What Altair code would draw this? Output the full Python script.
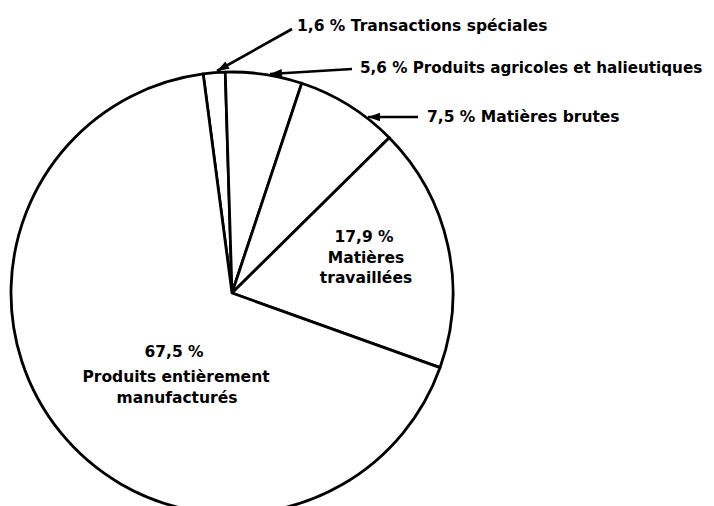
import altair as alt
import pandas as pd
import math

# ---- data ----
categories = [
    "Transactions spéciales",
    "Produits agricoles et halieutiques",
    "Matières brutes",
    "Matières travaillées",
    "Produits entièrement manufacturés",
]
shares = [1.6, 5.6, 7.5, 17.9, 67.5]
share_labels = ["1,6 %", "5,6 %", "7,5 %", "17,9 %", "67,5 %"]
order = [1, 2, 3, 4, 5]

df = pd.DataFrame({"categorie": categories, "part": shares, "ordre": order})

start = math.radians(-7.5)

FONT = "DejaVu Sans"
FS = 15.5

pie = alt.Chart(df).mark_arc(
    radius=221, fill="white", stroke="black", strokeWidth=2.8, strokeJoin="round"
).encode(
    theta=alt.Theta("part:Q", stack=True,
                    scale=alt.Scale(range=[start, start + 2 * math.pi])),
    order=alt.Order("ordre:Q"),
    x=alt.value(224),
    y=alt.value(285),
)

layers = [pie]

def txt(s, x, y, align="left", fs=FS):
    return alt.Chart(df.head(1)).mark_text(
        font=FONT, fontSize=fs, fontWeight="bold", align=align,
        baseline="middle", color="black"
    ).encode(x=alt.value(x), y=alt.value(y), text=alt.value(s))

def arrow(x1, y1, x2, y2):
    ang = math.degrees(math.atan2(y2 - y1, x2 - x1)) % 360
    line = alt.Chart(df.head(1)).mark_rule(color="black", strokeWidth=2.6).encode(
        x=alt.value(x1), y=alt.value(y1), x2=alt.value(x2), y2=alt.value(y2))
    head = alt.Chart(df.head(1)).mark_point(
        shape="M0,0 L-2.4,-0.85 L-2.4,0.85 Z", filled=True, color="black",
        opacity=1, size=100, strokeWidth=0
    ).encode(x=alt.value(x2), y=alt.value(y2), angle=alt.value(ang))
    return [line, head]

# outside labels with arrows
layers += arrow(284, 21, 209, 63)
layers.append(txt(f"{share_labels[0]} {categories[0]}", 289, 18))
layers += arrow(344, 61, 262, 66)
layers.append(txt(f"{share_labels[1]} {categories[1]}", 352, 60, fs=15.2))
layers += arrow(410, 109, 360, 109)
layers.append(txt(f"{share_labels[2]} {categories[2]}", 419, 109))

# inside labels
layers.append(txt(share_labels[3], 356, 229, "center"))
layers.append(txt("Matières", 358, 250, "center"))
layers.append(txt("travaillées", 358, 270, "center"))
layers.append(txt(share_labels[4], 166, 344, "center"))
layers.append(txt("Produits entièrement", 168, 369, "center"))
layers.append(txt("manufacturés", 169, 390, "center"))

chart = alt.layer(*layers).properties(
    width=698, height=498, autosize=alt.AutoSizeParams(type="none"), padding=0
).configure_view(stroke=None)

chart.save("out.html", embed_options={"renderer": "svg", "actions": False})
